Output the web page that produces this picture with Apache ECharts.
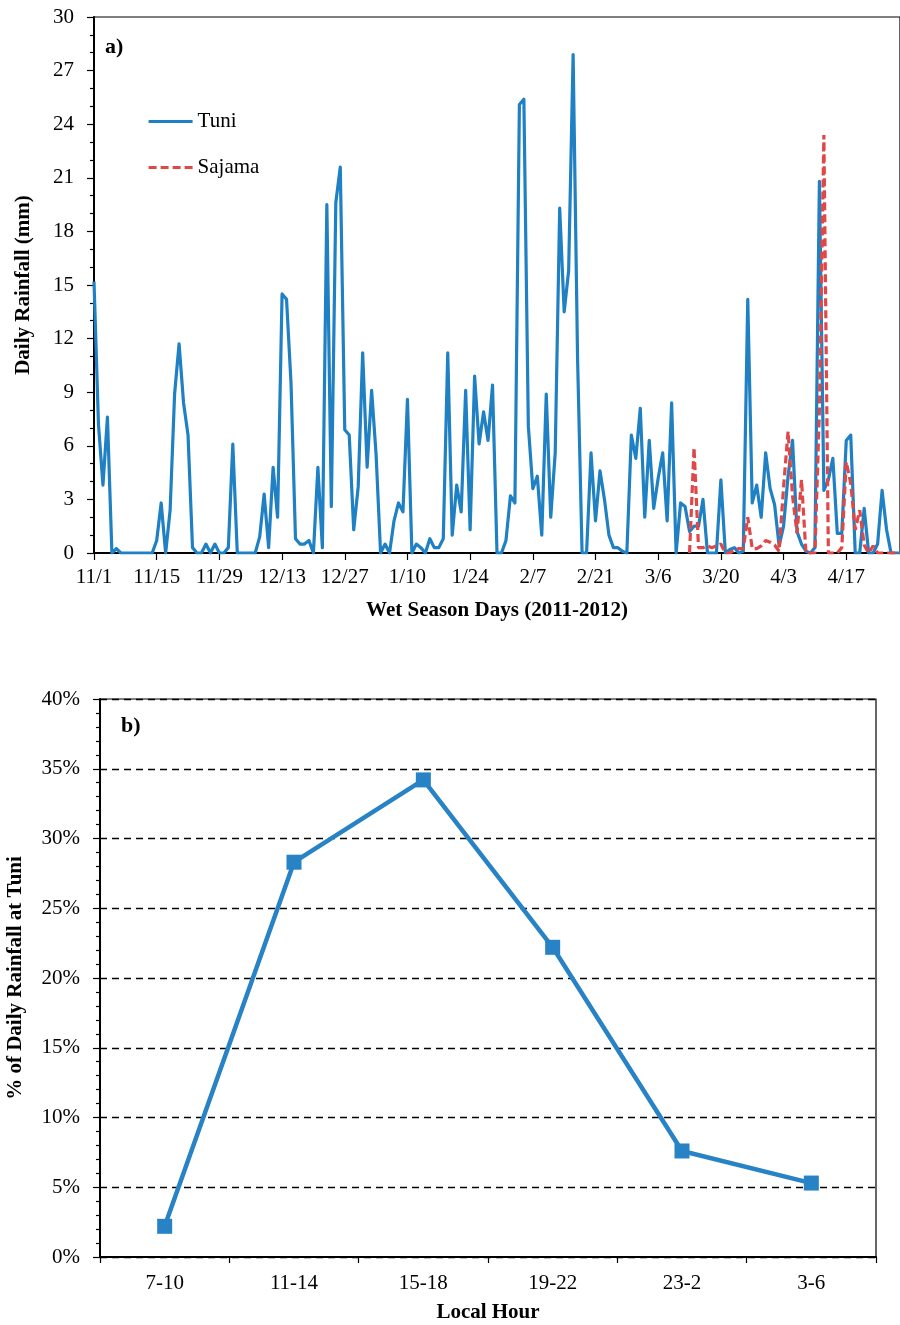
<!DOCTYPE html>
<html>
<head>
<meta charset="utf-8">
<script src="https://cdn.jsdelivr.net/npm/echarts@6/dist/echarts.min.js"></script>
<style>
  html, body { margin: 0; padding: 0; background: #fff; }
  #chart { width: 900px; height: 1325px; }
</style>
</head>
<body>
<div id="chart"></div>
<script>
// ---- Panel a: daily rainfall, wet season 2011-2012 ----
const seasonStart = Date.UTC(2011, 10, 1);   // 1 Nov 2011
const seasonLength = 181;                    // through 29 Apr 2012
const days = [];
for (let i = 0; i < seasonLength; i++) {
  const d = new Date(seasonStart + i * 86400000);
  days.push((d.getUTCMonth() + 1) + '/' + d.getUTCDate());
}

// Tuni daily rainfall (mm), one value per day from 11/1
const tuniRain = [
  15.2, 7.2, 3.8, 7.6, 0, 0.25, 0, 0, 0, 0,
  0, 0, 0, 0, 0.7, 2.8, 0, 2.4, 8.9, 11.7,
  8.4, 6.6, 0.3, 0, 0, 0.5, 0, 0.5, 0, 0,
  0.3, 6.1, 0, 0, 0, 0, 0, 0.9, 3.3, 0.3,
  4.8, 2.0, 14.5, 14.2, 9.5, 0.8, 0.5, 0.5, 0.7, 0,
  4.8, 0.3, 19.5, 2.6, 19.6, 21.6, 6.9, 6.6, 1.3, 3.7,
  11.2, 4.8, 9.1, 5.5, 0, 0.5, 0, 1.8, 2.8, 2.3,
  8.6, 0, 0.5, 0.3, 0, 0.8, 0.3, 0.3, 0.8, 11.2,
  1.0, 3.8, 2.3, 9.1, 1.3, 9.9, 6.1, 7.9, 6.3, 9.4,
  0, 0, 0.7, 3.2, 2.8, 25.1, 25.4, 7.1, 3.6, 4.3,
  1.0, 8.9, 2.0, 5.6, 19.3, 13.5, 15.8, 27.9, 10.8, 0,
  0, 5.6, 1.8, 4.6, 3.0, 1.0, 0.3, 0.3, 0.1, 0,
  6.6, 5.3, 8.1, 2.0, 6.3, 2.5, 4.2, 5.6, 1.8, 8.4,
  0, 2.8, 2.6, 1.2, 1.5, 1.5, 3.0, 0, 0, 0,
  4.1, 0, 0.2, 0.3, 0, 0.1, 14.2, 2.8, 3.8, 2.0,
  5.6, 3.6, 2.7, 0.4, 1.5, 4.3, 6.3, 1.2, 0.5, 0.1,
  0, 0.3, 20.8, 3.5, 4.1, 5.3, 1.1, 1.1, 6.3, 6.6,
  0, 0, 2.5, 0, 0, 0.5, 3.5, 1.3, 0, 0,
  0
];

// Sajama daily rainfall (mm); record begins on day index 133 (3/13)
const sajamaFirstDay = 133;
const sajamaRain = [
  0, 5.9, 0.3, 0.3, 0.4, 0.3, 0.4, 0.5, 0, 0,
  0.15, 0.25, 0.25, 2.0, 0.25, 0.25, 0.4, 0.7, 0.6, 0.45,
  0.1, 3.7, 6.8, 3.2, 1.1, 4.1, 0, 0, 0, 8,
  23.4, 0, 0, 0, 0.3, 5.1, 3.9, 1.3, 2.4, 0.45,
  0, 0.4, 0, 0, 0, 0, 0, 0
];

// ---- Panel b: share of daily rainfall by local hour at Tuni ----
const hourBins = ['7-10', '11-14', '15-18', '19-22', '23-2', '3-6'];
const hourShare = [2.2, 28.3, 34.2, 22.2, 7.6, 5.3];   // percent

const serif = "'Liberation Serif', 'Times New Roman', serif";
const blue = '#1f80c3';
const red = '#e04848';
const black = '#000';

const sajamaData = sajamaRain.map((v, i) => [days[sajamaFirstDay + i], v]);

const chart = echarts.init(document.getElementById('chart'), null, { renderer: 'canvas' });

const axisText = { fontFamily: serif, fontSize: 21, color: black };
const nameText = { fontFamily: serif, fontSize: 21, fontWeight: 'bold', color: black };

chart.setOption({
  animation: false,
  backgroundColor: '#fff',
  title: [
    { text: 'a)', left: 105, top: 36, padding: 0,
      textStyle: { fontFamily: serif, fontSize: 22, fontWeight: 'bold', color: black } },
    { text: 'b)', left: 121, top: 715, padding: 0,
      textStyle: { fontFamily: serif, fontSize: 22, fontWeight: 'bold', color: black } }
  ],
  legend: {
    data: ['Tuni', 'Sajama'],
    orient: 'vertical',
    left: 147,
    top: 111,
    padding: 0,
    itemWidth: 44,
    itemHeight: 14,
    itemGap: 25,
    itemStyle: { opacity: 0 },
    lineStyle: { width: 3.2 },
    textStyle: { fontFamily: serif, fontSize: 21, color: black, padding: [0, 0, 0, 0] }
  },
  grid: [
    { left: 94, top: 17, width: 806, height: 536, show: true, borderColor: black, borderWidth: 1.2,
      containLabel: false, outerBoundsMode: 'none' },
    { left: 100, top: 699, width: 776, height: 558, show: true, borderColor: black, borderWidth: 1.2,
      containLabel: false, outerBoundsMode: 'none' }
  ],
  xAxis: [
    {
      gridIndex: 0,
      type: 'category',
      data: days,
      boundaryGap: false,
      axisLine: { lineStyle: { color: black, width: 2 } },
      axisTick: { show: true, interval: 13, length: 7, inside: false, lineStyle: { color: black, width: 1.2 } },
      axisLabel: { interval: 13, margin: 14, ...axisText, hideOverlap: false },
      splitLine: { show: false },
      name: 'Wet Season Days (2011-2012)',
      nameLocation: 'middle',
      nameGap: 47,
      nameTextStyle: nameText
    },
    {
      gridIndex: 1,
      type: 'category',
      data: hourBins,
      boundaryGap: true,
      axisLine: { lineStyle: { color: black, width: 2 } },
      axisTick: { show: true, length: 6, inside: false, lineStyle: { color: black, width: 1.2 } },
      axisLabel: { margin: 16, ...axisText },
      splitLine: { show: false },
      name: 'Local Hour',
      nameLocation: 'middle',
      nameGap: 45,
      nameTextStyle: nameText
    }
  ],
  yAxis: [
    {
      gridIndex: 0,
      type: 'value',
      min: 0, max: 30, interval: 3,
      axisLine: { show: true, lineStyle: { color: black, width: 2 } },
      axisTick: { show: true, length: 7, inside: false, lineStyle: { color: black, width: 1.2 } },
      minorTick: { show: true, splitNumber: 3, length: 4, lineStyle: { color: black, width: 1.2 } },
      axisLabel: { margin: 20, ...axisText },
      splitLine: { show: false },
      name: 'Daily Rainfall (mm)',
      nameLocation: 'middle',
      nameGap: 60,
      nameRotate: 90,
      nameTextStyle: nameText
    },
    {
      gridIndex: 1,
      type: 'value',
      min: 0, max: 40, interval: 5,
      axisLine: { show: true, lineStyle: { color: black, width: 2 } },
      axisTick: { show: true, length: 7, inside: false, lineStyle: { color: black, width: 1.2 } },
      minorTick: { show: true, splitNumber: 5, length: 4, lineStyle: { color: black, width: 1.2 } },
      axisLabel: { margin: 20, formatter: '{value}%', ...axisText },
      splitLine: { show: true, lineStyle: { color: black, width: 1.3, type: [7, 5] } },
      name: '% of Daily Rainfall at Tuni',
      nameLocation: 'middle',
      nameGap: 74,
      nameRotate: 90,
      nameTextStyle: nameText
    }
  ],
  series: [
    {
      name: 'Tuni',
      type: 'line',
      xAxisIndex: 0, yAxisIndex: 0,
      data: tuniRain,
      symbol: 'none',
      showSymbol: false,
      lineStyle: { color: blue, width: 3.2, join: 'round' },
      itemStyle: { color: blue },
      z: 3
    },
    {
      name: 'Sajama',
      type: 'line',
      xAxisIndex: 0, yAxisIndex: 0,
      data: sajamaData,
      symbol: 'none',
      showSymbol: false,
      lineStyle: { color: red, width: 3.2, type: [8, 4] },
      itemStyle: { color: red },
      z: 4
    },
    {
      name: 'Tuni hourly share',
      type: 'line',
      xAxisIndex: 1, yAxisIndex: 1,
      data: hourShare,
      symbol: 'rect',
      symbolSize: 15,
      lineStyle: { color: '#2783c5', width: 4.5 },
      itemStyle: { color: '#2783c5' }
    }
  ]
});
</script>
</body>
</html>
